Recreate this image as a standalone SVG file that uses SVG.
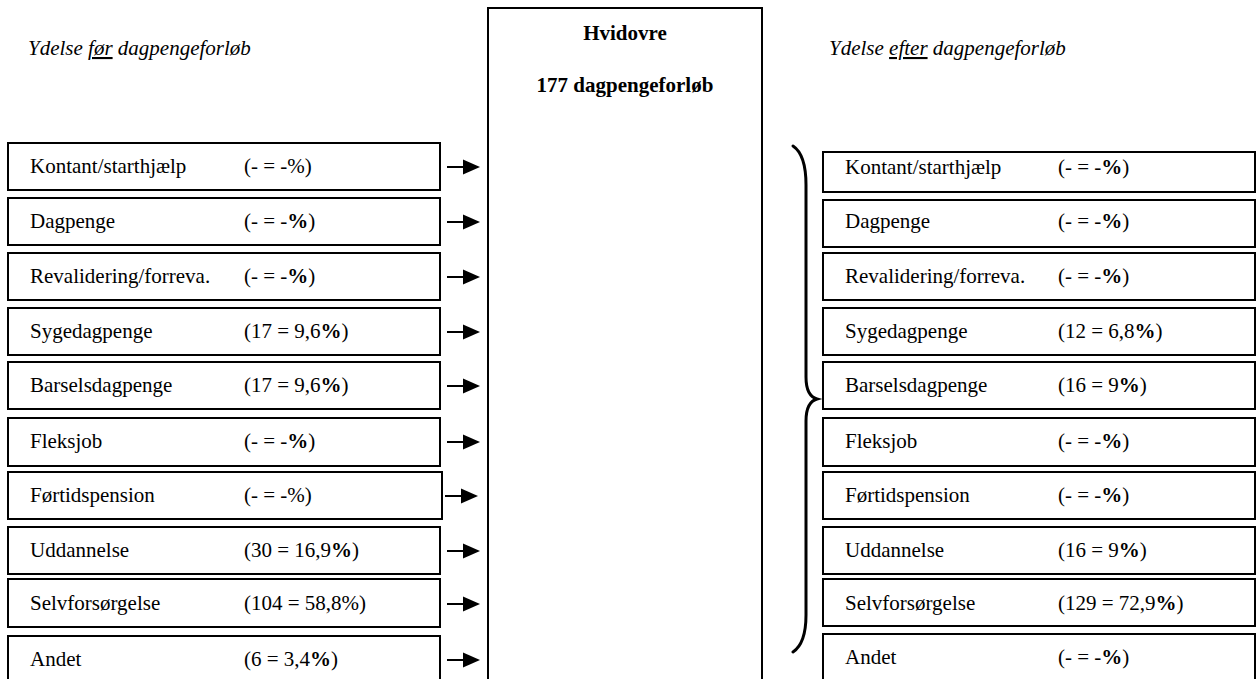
<svg xmlns="http://www.w3.org/2000/svg" width="1259" height="679" viewBox="0 0 1259 679">
<style>
text{font-family:"Liberation Serif","Times New Roman",serif;font-size:21px;fill:#000}
.box{fill:#fff;stroke:#000;stroke-width:2}
.hdr{font-style:italic}
.b{font-weight:bold}
.u{text-decoration:underline}
.arr{stroke:#000;stroke-width:2;fill:none}
.head{fill:#000}
.brace{stroke:#000;stroke-width:3;fill:none;stroke-linecap:round}
</style>
<defs>
<path id="ah" d="M0,-7.5 L17,0 L0,7.5 z"/>
</defs>
<rect width="1259" height="679" fill="#fff"/>
<text class="hdr" x="28" y="55">Ydelse <tspan class="u">før</tspan> dagpengeforløb</text>
<text class="hdr" x="829" y="55">Ydelse <tspan class="u">efter</tspan> dagpengeforløb</text>
<g id="center">
<rect class="box" x="488" y="8" width="274" height="690"/>
<text class="b" x="625" y="40" text-anchor="middle">Hvidovre</text>
<text class="b" x="625" y="92" text-anchor="middle">177 dagpengeforløb</text>
</g>
<g id="left">
<g id="l1"><rect class="box" x="8" y="143" width="432" height="47"/><text x="30" y="173">Kontant/starthjælp</text><text x="244" y="173">(- = -%)</text></g>
<g id="l2"><rect class="box" x="8" y="198" width="432" height="47"/><text x="30" y="228">Dagpenge</text><text x="244" y="228">(- = -<tspan class="b">%</tspan>)</text></g>
<g id="l3"><rect class="box" x="8" y="253" width="432" height="47"/><text x="30" y="283">Revalidering/forreva.</text><text x="244" y="283">(- = -<tspan class="b">%</tspan>)</text></g>
<g id="l4"><rect class="box" x="8" y="308" width="432" height="47"/><text x="30" y="338">Sygedagpenge</text><text x="244" y="338">(17 = 9,6<tspan class="b">%</tspan>)</text></g>
<g id="l5"><rect class="box" x="8" y="362" width="432" height="47"/><text x="30" y="392">Barselsdagpenge</text><text x="244" y="392">(17 = 9,6<tspan class="b">%</tspan>)</text></g>
<g id="l6"><rect class="box" x="8" y="418" width="432" height="48"/><text x="30" y="448">Fleksjob</text><text x="244" y="448">(- = -<tspan class="b">%</tspan>)</text></g>
<g id="l7"><rect class="box" x="8" y="472" width="434" height="47"/><text x="30" y="502">Førtidspension</text><text x="244" y="502">(- = -%)</text></g>
<g id="l8"><rect class="box" x="8" y="527" width="432" height="47"/><text x="30" y="557">Uddannelse</text><text x="244" y="557">(30 = 16,9<tspan class="b">%</tspan>)</text></g>
<g id="l9"><rect class="box" x="8" y="579" width="432" height="48"/><text x="30" y="610">Selvforsørgelse</text><text x="244" y="610">(104 = 58,8%)</text></g>
<g id="l10"><rect class="box" x="8" y="636" width="432" height="60"/><text x="30" y="666">Andet</text><text x="244" y="666">(6 = 3,4<tspan class="b">%</tspan>)</text></g>
</g>
<g id="right">
<g id="r1"><rect class="box" x="823" y="152" width="432" height="40"/><text x="845" y="174">Kontant/starthjælp</text><text x="1058" y="174">(- = -<tspan class="b">%</tspan>)</text></g>
<g id="r2"><rect class="box" x="823" y="200" width="432" height="47"/><text x="845" y="228">Dagpenge</text><text x="1058" y="228">(- = -<tspan class="b">%</tspan>)</text></g>
<g id="r3"><rect class="box" x="823" y="253" width="432" height="47"/><text x="845" y="283">Revalidering/forreva.</text><text x="1058" y="283">(- = -<tspan class="b">%</tspan>)</text></g>
<g id="r4"><rect class="box" x="823" y="308" width="432" height="47"/><text x="845" y="338">Sygedagpenge</text><text x="1058" y="338">(12 = 6,8<tspan class="b">%</tspan>)</text></g>
<g id="r5"><rect class="box" x="823" y="362" width="432" height="47"/><text x="845" y="392">Barselsdagpenge</text><text x="1058" y="392">(16 = 9<tspan class="b">%</tspan>)</text></g>
<g id="r6"><rect class="box" x="823" y="418" width="432" height="48"/><text x="845" y="448">Fleksjob</text><text x="1058" y="448">(- = -<tspan class="b">%</tspan>)</text></g>
<g id="r7"><rect class="box" x="823" y="472" width="432" height="47"/><text x="845" y="502">Førtidspension</text><text x="1058" y="502">(- = -<tspan class="b">%</tspan>)</text></g>
<g id="r8"><rect class="box" x="823" y="527" width="432" height="47"/><text x="845" y="557">Uddannelse</text><text x="1058" y="557">(16 = 9<tspan class="b">%</tspan>)</text></g>
<g id="r9"><rect class="box" x="823" y="579" width="432" height="47"/><text x="845" y="610">Selvforsørgelse</text><text x="1058" y="610">(129 = 72,9<tspan class="b">%</tspan>)</text></g>
<g id="r10"><rect class="box" x="823" y="634" width="432" height="60"/><text x="845" y="664">Andet</text><text x="1058" y="664">(- = -<tspan class="b">%</tspan>)</text></g>
</g>
<g id="connectors">
<line class="arr" x1="447" y1="167" x2="464" y2="167"/><use href="#ah" class="head" x="463" y="167"/>
<line class="arr" x1="447" y1="222" x2="464" y2="222"/><use href="#ah" class="head" x="463" y="222"/>
<line class="arr" x1="447" y1="277" x2="464" y2="277"/><use href="#ah" class="head" x="463" y="277"/>
<line class="arr" x1="447" y1="332" x2="464" y2="332"/><use href="#ah" class="head" x="463" y="332"/>
<line class="arr" x1="447" y1="386" x2="464" y2="386"/><use href="#ah" class="head" x="463" y="386"/>
<line class="arr" x1="447" y1="442" x2="464" y2="442"/><use href="#ah" class="head" x="463" y="442"/>
<line class="arr" x1="445" y1="496" x2="462" y2="496"/><use href="#ah" class="head" x="461" y="496"/>
<line class="arr" x1="447" y1="551" x2="464" y2="551"/><use href="#ah" class="head" x="463" y="551"/>
<line class="arr" x1="447" y1="604" x2="464" y2="604"/><use href="#ah" class="head" x="463" y="604"/>
<line class="arr" x1="447" y1="660" x2="464" y2="660"/><use href="#ah" class="head" x="463" y="660"/>
<path class="brace" d="M793,146 C802,152 806,165 806,185 L806,377 C806,391 810,397 817,399 C810,401 806,407 806,421 L806,615 C806,635 802,646 793,652"/>
</g>
</svg>
